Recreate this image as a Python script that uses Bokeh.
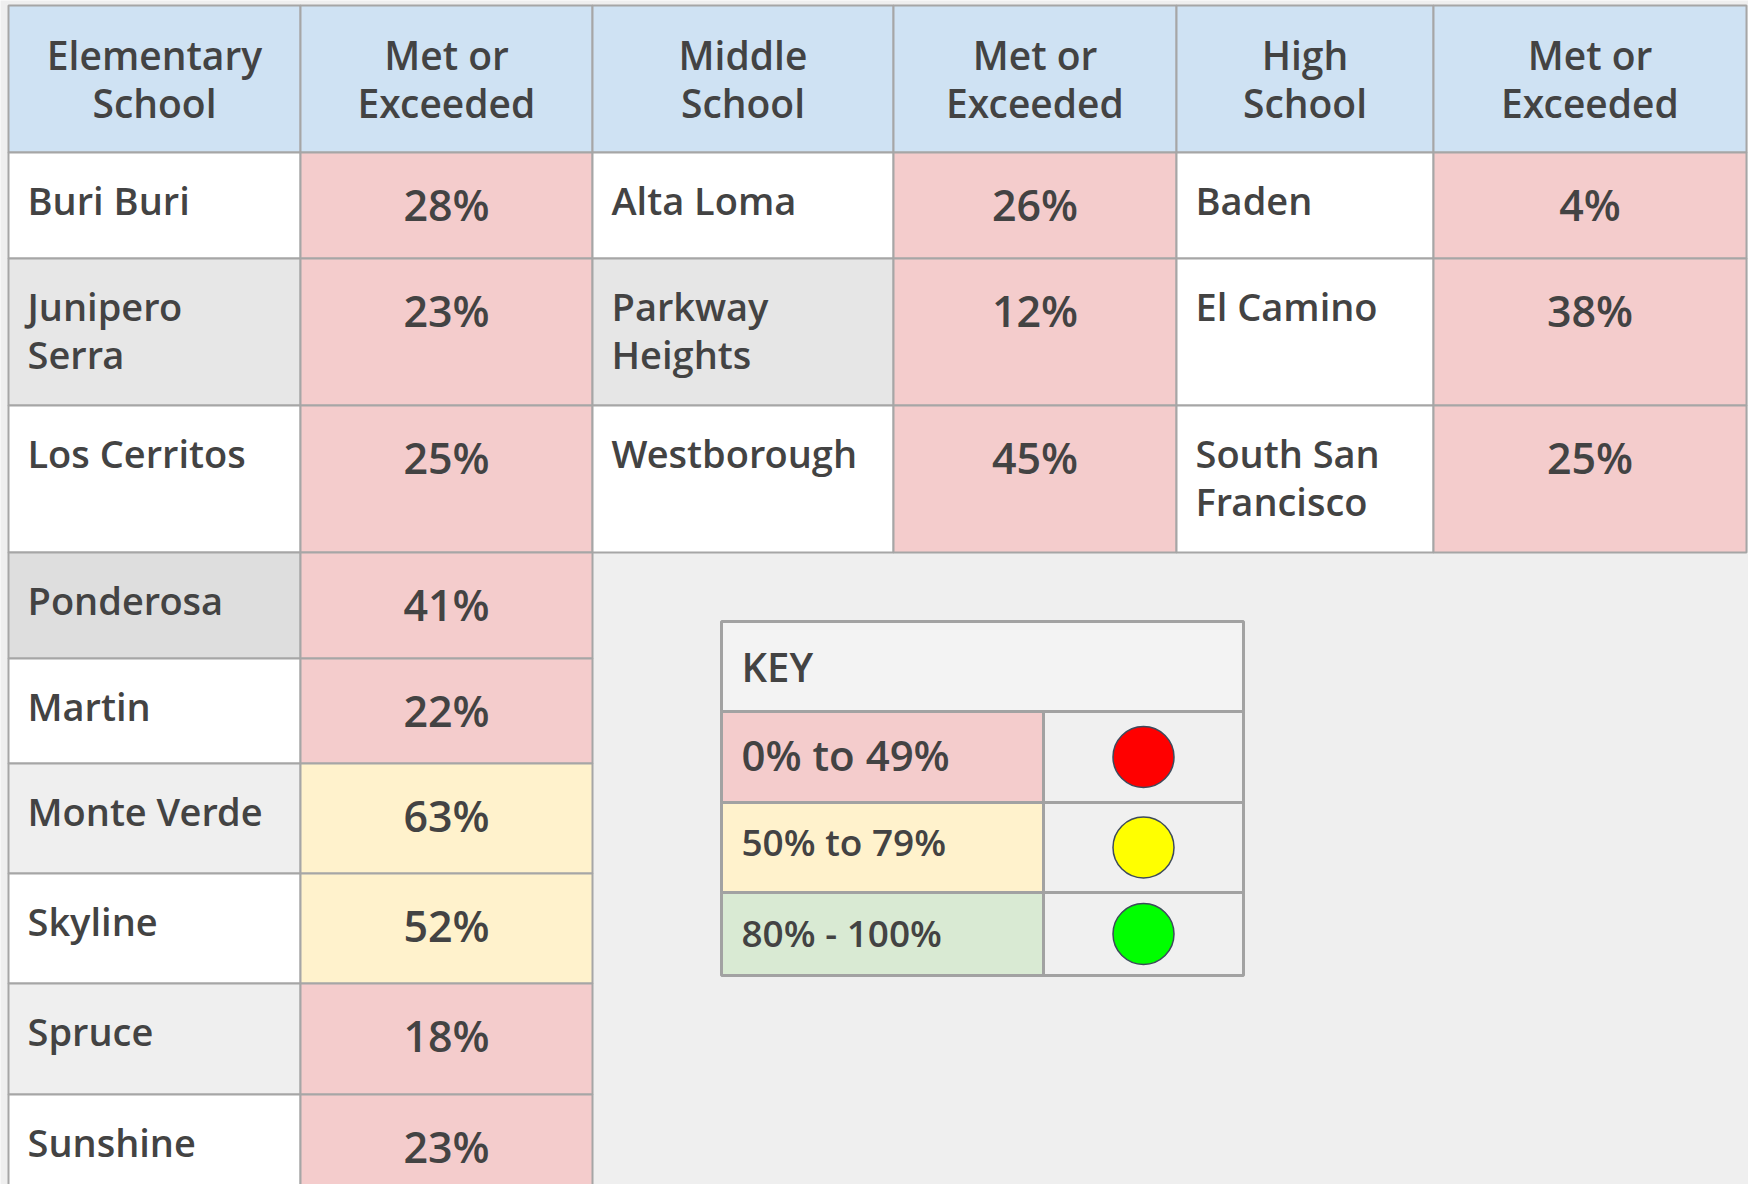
import numpy as np
from bokeh.plotting import figure
from bokeh.models import Range1d, ColumnDataSource
from bokeh.core.properties import value
from bokeh.embed import file_html
from bokeh.resources import INLINE

# ---------------- data ----------------
headers = ["Elementary\nSchool", "Met or\nExceeded", "Middle\nSchool",
           "Met or\nExceeded", "High\nSchool", "Met or\nExceeded"]
elem_schools = ["Buri Buri", "Junipero\nSerra", "Los Cerritos", "Ponderosa",
                "Martin", "Monte Verde", "Skyline", "Spruce", "Sunshine"]
elem_pct = [28, 23, 25, 41, 22, 63, 52, 18, 23]
middle_schools = ["Alta Loma", "Parkway\nHeights", "Westborough"]
middle_pct = [26, 12, 45]
high_schools = ["Baden", "El Camino", "South San\nFrancisco"]
high_pct = [4, 38, 25]
key_title = "KEY"
key_labels = ["0% to 49%", "50% to 79%", "80% - 100%"]
key_lows = [0, 50, 80]
key_dot_colors = ["#ff0000", "#ffff00", "#00ff00"]

# ---------------- styling / layout ----------------
W, H = 1748, 1184
X0, Y0 = 8, 5
col_widths = [292, 292, 301, 283, 257, 313]
row_heights = [147, 106, 147, 147, 106, 105, 110, 110, 111, 112]
col_edges = X0 + np.concatenate([[0], np.cumsum(col_widths)])
row_edges = Y0 + np.concatenate([[0], np.cumsum(row_heights)])

FONT = "Open Sans SemiBold"
FONT_STYLE = "normal"
TXT = "#434343"
GRID = "#a6a6a6"
HEADER_FILL = "#cfe2f3"
elem_fill = ["#ffffff", "#e7e7e7", "#ffffff", "#dedede", "#ffffff",
             "#efefef", "#ffffff", "#efefef", "#ffffff"]
middle_fill = ["#ffffff", "#e6e6e6", "#ffffff"]
high_fill = ["#ffffff", "#ffffff", "#ffffff"]
BASE_SHIFT = 0.38  # bokeh draws "alphabetic" text lower by about this many em


def band_color(v):
    if v < 50:
        return "#f4cccc"
    if v < 80:
        return "#fff2cc"
    return "#d9ead3"


p = figure(width=W, height=H, x_range=Range1d(0, W), y_range=Range1d(H, 0),
           output_backend="svg", toolbar_location=None, x_axis_type=None, y_axis_type=None,
           min_border=0, background_fill_color="#efefef", border_fill_color="#efefef",
           outline_line_color=None)
p.xgrid.visible = False
p.ygrid.visible = False

cells = dict(left=[], right=[], top=[], bottom=[], fill=[])
texts = {}  # key: (size, align) -> dict(x, y, text)


def add_cell(c, r, fill):
    cells["left"].append(col_edges[c]); cells["right"].append(col_edges[c + 1])
    cells["top"].append(row_edges[r]); cells["bottom"].append(row_edges[r + 1])
    cells["fill"].append(fill)


def add_text(x, y, s, size, align, dy=48):
    d = texts.setdefault((size, align), dict(x=[], y=[], text=[]))
    y = y - BASE_SHIFT * size
    for i, line in enumerate(s.split("\n")):
        d["x"].append(x); d["y"].append(y + i * dy); d["text"].append(line)


# header
for c, h in enumerate(headers):
    add_cell(c, 0, HEADER_FILL)
    cx = (col_edges[c] + col_edges[c + 1]) / 2
    cy = (row_edges[0] + row_edges[1]) / 2
    add_text(cx, cy - 10, h, 39, "center")

groups = [(0, elem_schools, elem_pct, elem_fill),
          (2, middle_schools, middle_pct, middle_fill),
          (4, high_schools, high_pct, high_fill)]
for c, names, pcts, fills in groups:
    for i, (n, v, f) in enumerate(zip(names, pcts, fills)):
        r = i + 1
        add_cell(c, r, f)
        add_cell(c + 1, r, band_color(v))
        add_text(col_edges[c] + 19, row_edges[r] + 62, n, 38, "left")
        add_text((col_edges[c + 1] + col_edges[c + 2]) / 2, row_edges[r] + 68,
                 f"{v}%", 43, "center")

p.quad(left="left", right="right", top="top", bottom="bottom", fill_color="fill",
       line_color=GRID, line_width=2, source=ColumnDataSource(cells))

# ---------------- key ----------------
KX, KY = 721, 621
key_cols = [322, 200]
key_rows = [90, 91, 90, 83]
kx = KX + np.concatenate([[0], np.cumsum(key_cols)])
ky = KY + np.concatenate([[0], np.cumsum(key_rows)])
kc = dict(left=[kx[0]], right=[kx[2]], top=[ky[0]], bottom=[ky[1]], fill=["#f3f3f3"])
for i, lo in enumerate(key_lows):
    kc["left"] += [kx[0], kx[1]]; kc["right"] += [kx[1], kx[2]]
    kc["top"] += [ky[i + 1]] * 2; kc["bottom"] += [ky[i + 2]] * 2
    kc["fill"] += [band_color(lo), "#f0f0f0"]
p.quad(left="left", right="right", top="top", bottom="bottom", fill_color="fill",
       line_color="#a2a2a2", line_width=3, source=ColumnDataSource(kc))

add_text(kx[0] + 20, ky[0] + 60, key_title, 40, "left")
key_sizes = [42, 37, 37]
key_off = [59, 53, 54]
for i, lab in enumerate(key_labels):
    add_text(kx[0] + 20, ky[i + 1] + key_off[i], lab, key_sizes[i], "left")

p.circle(x=[(kx[1] + kx[2]) / 2] * 3,
         y=[(ky[i + 1] + ky[i + 2]) / 2 for i in range(3)],
         radius=30.5, fill_color=key_dot_colors, line_color="#3d4a5c", line_width=1.5)

for (size, align), d in texts.items():
    p.text(x="x", y="y", text="text", source=ColumnDataSource(d),
           text_font=value(FONT), text_font_style=FONT_STYLE, text_font_size=f"{size}px",
           text_align=align, text_baseline="alphabetic", text_color=TXT)

open("out.html", "w").write(file_html(p, INLINE))
